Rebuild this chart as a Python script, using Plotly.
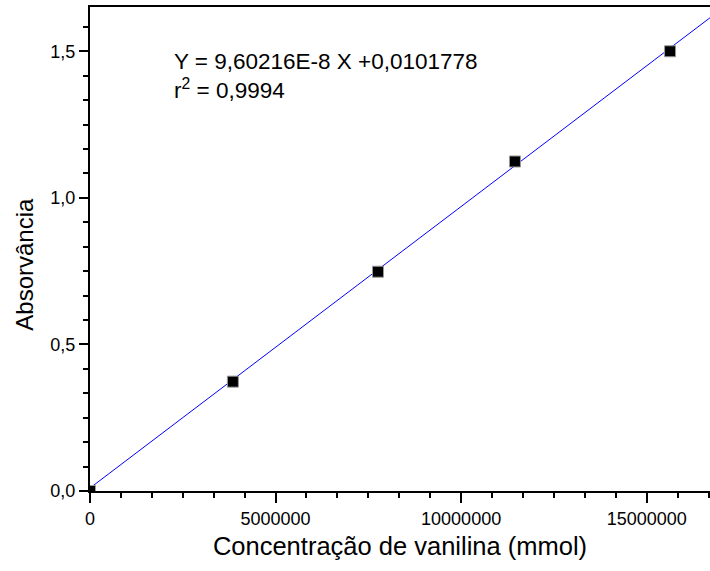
import plotly.graph_objects as go

# Data
conc = [0, 3.85e6, 7.76e6, 11.45e6, 15.63e6]
absorb = [0.0, 0.373, 0.748, 1.124, 1.500]

# Linear fit endpoints (Y = 9,60216E-8 X + 0,0101778)
fit_x = [0, 17.0e6]
fit_y = [0.0102, 1.6425]

x_tickvals = [0, 5000000, 10000000, 15000000]
x_ticktext = ["0", "5000000", "10000000", "15000000"]
y_tickvals = [0.0, 0.5, 1.0, 1.5]
y_ticktext = ["0,0", "0,5", "1,0", "1,5"]

eq_text = "Y = 9,60216E-8 X +0,0101778"
r2_text = "r<sup>2</sup> = 0,9994"
x_title = "Concentração de vanilina (mmol)"
y_title = "Absorvância"

FONT = "Arial, 'Liberation Sans', sans-serif"

fig = go.Figure()
fig.add_trace(go.Scatter(x=fit_x, y=fit_y, mode="lines",
                         line=dict(color="#0000ff", width=1), showlegend=False))
fig.add_trace(go.Scatter(x=conc, y=absorb, mode="markers",
                         marker=dict(symbol="square", size=11, color="black",
                                     line=dict(color="#999999", width=1)),
                         showlegend=False))

fig.add_annotation(x=2.22e6, y=1.415, xref="x", yref="y",
                   text=eq_text + "<br>" + r2_text, align="left",
                   showarrow=False, xanchor="left", yanchor="middle",
                   font=dict(family=FONT, size=22.5, color="black"))

# Y axis title placed as a rotated annotation
fig.add_annotation(x=-0.106, y=0.773, xref="paper", yref="y", text=y_title,
                   showarrow=False, xanchor="center", yanchor="middle",
                   textangle=-90, font=dict(family=FONT, size=24, color="black"))

fig.update_layout(
    width=710, height=571,
    margin=dict(l=90, r=0, t=7, b=80),
    paper_bgcolor="white", plot_bgcolor="white",
    font=dict(family=FONT, color="black"),
    xaxis=dict(range=[0, 16.706e6], showgrid=False, zeroline=False,
               showline=True, linecolor="black", linewidth=2, mirror=True,
               ticks="outside", ticklen=10, tickwidth=2, tickcolor="black",
               tickvals=x_tickvals, ticktext=x_ticktext,
               tickfont=dict(size=18, family=FONT),
               minor=dict(dtick=5e6 / 6, tick0=0, ticks="outside", ticklen=5,
                          tickwidth=2, tickcolor="black", showgrid=False),
               title=dict(text=x_title,
                          font=dict(size=25.5, family=FONT), standoff=10)),
    yaxis=dict(range=[0, 1.651], showgrid=False, zeroline=False,
               showline=True, linecolor="black", linewidth=2, mirror=False,
               ticks="outside", ticklen=9, tickwidth=2, tickcolor="black",
               tickvals=y_tickvals, ticktext=y_ticktext,
               tickfont=dict(size=18, family=FONT),
               minor=dict(dtick=0.5 / 6, tick0=0, ticks="outside", ticklen=5,
                          tickwidth=2, tickcolor="black", showgrid=False)),
)

fig.write_html("out.html")
